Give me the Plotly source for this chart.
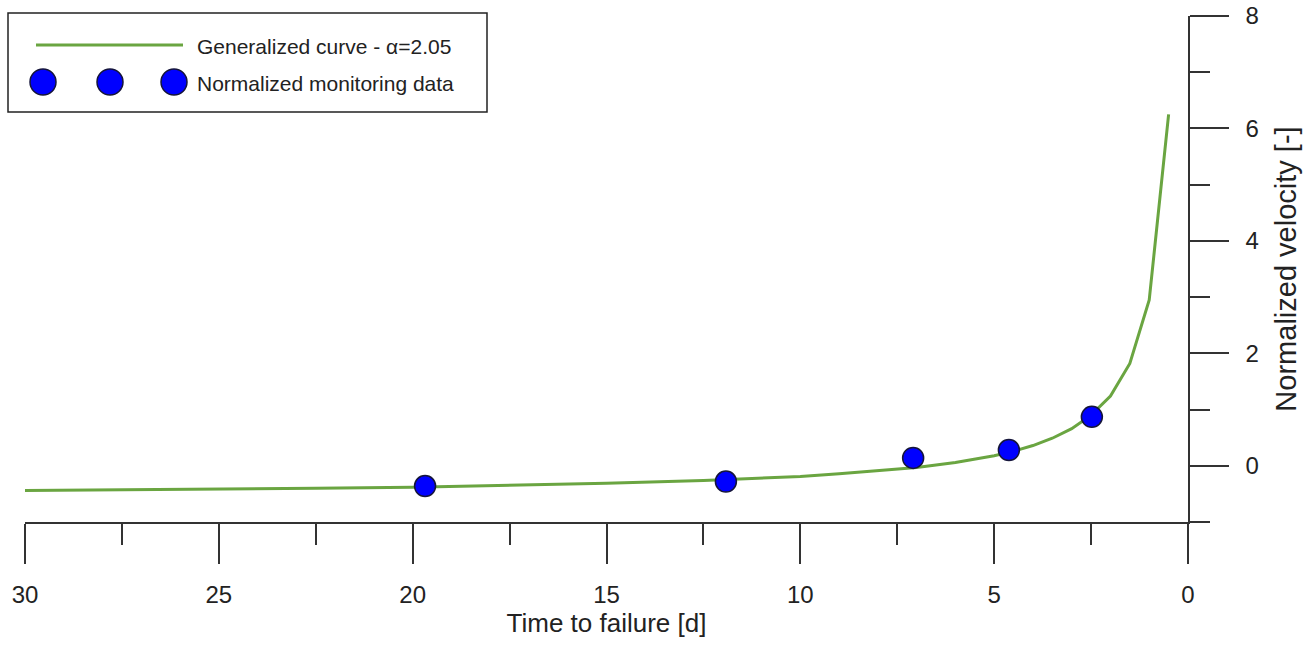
import plotly.graph_objects as go

# ---- data ----
curve_t = [30, 27.5, 25, 22.5, 20, 17.5, 15, 12.5, 10, 9, 8, 7, 6, 5, 4.5, 4, 3.5, 3, 2.5, 2, 1.5, 1, 0.5]
curve_v = [-0.44, -0.43, -0.415, -0.40, -0.38, -0.35, -0.31, -0.26, -0.19, -0.14, -0.09, -0.03,
           0.06, 0.18, 0.26, 0.36, 0.49, 0.66, 0.90, 1.24, 1.82, 2.95, 6.25]
data_t = [19.68, 11.92, 7.09, 4.62, 2.48]
data_v = [-0.36, -0.28, 0.14, 0.28, 0.87]

x_ticks = [30, 25, 20, 15, 10, 5, 0]
x_minor = [27.5, 22.5, 17.5, 12.5, 7.5, 2.5]
y_ticks = [0, 2, 4, 6, 8]
y_minor = [-1, 1, 3, 5, 7]

curve_name = "Generalized curve - \u03b1=2.05"
data_name = "Normalized monitoring data"

# ---- style ----
W, H = 1313, 646
ML, MR, MT, MB = 25, 125, 16, 124
PW, PH = W - ML - MR, H - MT - MB
GREEN = "#6aa541"
BLUE = "#0000ff"
AX = "#333333"
TXT = "#222222"
FONT = "Arial, Liberation Sans, sans-serif"


def px(xp):
    return (xp - ML) / PW


def py(yp):
    return (H - MB - yp) / PH


fig = go.Figure()
fig.add_trace(go.Scatter(x=curve_t, y=curve_v, mode="lines", name=curve_name,
                         line=dict(color=GREEN, width=3), showlegend=False))
fig.add_trace(go.Scatter(x=data_t, y=data_v, mode="markers", name=data_name,
                         marker=dict(color=BLUE, size=21, line=dict(color="#15153a", width=1.5)),
                         showlegend=False, cliponaxis=False))

# ---- custom legend (box, line sample, three markers, texts) ----
shapes = [
    dict(type="rect", xref="paper", yref="paper", x0=px(8), x1=px(487), y0=py(112), y1=py(13),
         line=dict(color="#222222", width=1.5), fillcolor="white", layer="above"),
    dict(type="line", xref="paper", yref="paper", x0=px(36), x1=px(183), y0=py(45), y1=py(45),
         line=dict(color=GREEN, width=3), layer="above"),
]
for cx in (43, 110, 174):
    shapes.append(dict(type="circle", xref="paper", yref="paper", xsizemode="pixel", ysizemode="pixel",
                       xanchor=px(cx), yanchor=py(82), x0=-13, x1=13, y0=-13, y1=13,
                       fillcolor=BLUE, line=dict(color="#15153a", width=1.5), layer="above"))

annotations = [
    dict(xref="paper", yref="paper", x=px(195), y=py(46), text=curve_name, showarrow=False,
         xanchor="left", yanchor="middle", font=dict(size=21, color=TXT, family=FONT)),
    dict(xref="paper", yref="paper", x=px(195), y=py(83), text=data_name, showarrow=False,
         xanchor="left", yanchor="middle", font=dict(size=21, color=TXT, family=FONT)),
]

fig.update_layout(
    width=W, height=H,
    margin=dict(l=ML, r=MR, t=MT, b=MB, pad=0, autoexpand=False),
    paper_bgcolor="white", plot_bgcolor="white",
    font=dict(family=FONT, color=TXT),
    shapes=shapes, annotations=annotations,
    showlegend=False,
    xaxis=dict(range=[30, 0], tickvals=x_ticks, ticktext=[str(v) for v in x_ticks],
               ticks="outside", ticklen=40, tickwidth=1.5, tickcolor=AX, automargin=False,
               minor=dict(tickvals=x_minor, ticks="outside", ticklen=21, tickwidth=1.5, tickcolor=AX),
               showline=True, linecolor=AX, linewidth=1.5, showgrid=False, zeroline=False,
               tickfont=dict(size=24, family=FONT, color=TXT), ticklabelstandoff=10,
               title=dict(text="Time to failure [d]", font=dict(size=26, family=FONT, color=TXT),
                          standoff=2)),
    yaxis=dict(range=[-1, 8], side="right", tickvals=y_ticks, ticktext=[str(v) for v in y_ticks],
               ticks="outside", ticklen=39, tickwidth=1.5, tickcolor=AX, automargin=False,
               minor=dict(tickvals=y_minor, ticks="outside", ticklen=20, tickwidth=1.5, tickcolor=AX),
               showline=True, linecolor=AX, linewidth=1.5, showgrid=False, zeroline=False,
               tickfont=dict(size=24, family=FONT, color=TXT), ticklabelstandoff=12,
               title=dict(text="Normalized velocity [-]", font=dict(size=29, family=FONT, color=TXT),
                          standoff=18)),
)

fig.write_html("out.html")
